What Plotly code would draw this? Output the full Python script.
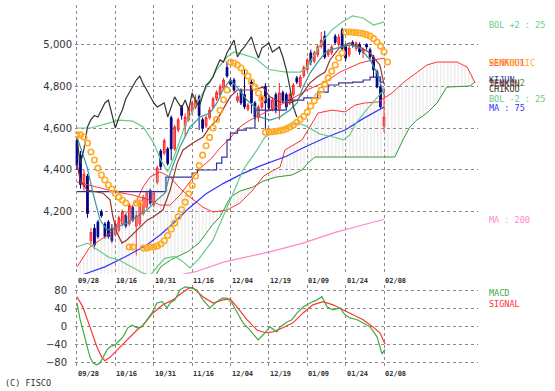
import plotly.graph_objects as go

# ---------------- data ----------------
date_idx = [0, 11, 22, 33, 44, 55, 66, 77, 88]
date_labels = ["09/28", "10/16", "10/31", "11/16", "12/04", "12/19", "01/09", "01/24", "02/08"]

opens = [4540, 4470, 4320, 4370, 4060, 4120, 4150, 4200, 4140, 4150,
         4120, 4090, 4110, 4140, 4180, 4140, 4220, 4130, 4140, 4190,
         4220, 4300, 4230, 4340, 4490, 4480, 4500, 4650, 4500, 4590,
         4700, 4610, 4640, 4680, 4700, 4750, 4640, 4610, 4650, 4700,
         4740, 4760, 4790, 4890, 4830, 4830, 4730, 4780, 4760, 4690,
         4820, 4720, 4650, 4700, 4800, 4740, 4690, 4760, 4690, 4770,
         4760, 4720, 4760, 4840, 4800, 4850, 4880, 4960, 4920, 4950,
         4990, 5040, 4950, 4960, 5040, 5000, 5070, 4990, 4950, 5010,
         4980, 5000, 4960, 5000, 4975, 4940, 4870, 4800, 4610]
highs = [4560, 4490, 4400, 4380, 4120, 4140, 4160, 4210, 4150, 4160,
         4140, 4160, 4180, 4210, 4190, 4240, 4230, 4200, 4250, 4280,
         4300, 4310, 4300, 4420, 4500, 4550, 4510, 4660, 4615, 4650,
         4710, 4670, 4700, 4730, 4760, 4760, 4650, 4660, 4700, 4750,
         4780, 4810, 4840, 4920, 4840, 4840, 4770, 4790, 4880, 4720,
         4830, 4730, 4710, 4760, 4815, 4750, 4740, 4770, 4815, 4780,
         4770, 4770, 4815, 4850, 4855, 4900, 4935, 4975, 4970, 5000,
         5060, 5065, 4980, 5000, 5050, 5050, 5080, 5000, 4995, 5020,
         5015, 5010, 4985, 5005, 4985, 4950, 4880, 4810, 4795]
lows = [4400, 4310, 4300, 4170, 4040, 4020, 4070, 4170, 4070, 4070,
        4050, 4080, 4100, 4130, 4120, 4130, 4150, 3990, 4130, 4180,
        4210, 4230, 4220, 4330, 4400, 4470, 4420, 4445, 4490, 4580,
        4640, 4560, 4630, 4670, 4690, 4590, 4580, 4600, 4640, 4690,
        4730, 4750, 4780, 4840, 4800, 4770, 4720, 4710, 4690, 4680,
        4670, 4640, 4630, 4690, 4590, 4680, 4680, 4670, 4640, 4720,
        4690, 4710, 4750, 4810, 4790, 4840, 4870, 4900, 4910, 4940,
        4980, 4930, 4940, 4950, 5000, 4990, 4970, 4920, 4940, 4985,
        4970, 4950, 4935, 4975, 4930, 4840, 4790, 4690, 4580]
closes = [4420, 4330, 4380, 4190, 4100, 4040, 4080, 4180, 4080, 4080,
          4060, 4140, 4170, 4200, 4130, 4230, 4160, 4180, 4240, 4270,
          4290, 4240, 4290, 4410, 4415, 4540, 4430, 4500, 4605, 4640,
          4660, 4653, 4690, 4720, 4734, 4660, 4600, 4650, 4686, 4740,
          4770, 4796, 4830, 4849, 4810, 4782, 4750, 4720, 4701, 4710,
          4720, 4653, 4700, 4749, 4720, 4696, 4734, 4686, 4768, 4730,
          4701, 4760, 4806, 4820, 4844, 4890, 4926, 4916, 4960, 4990,
          5021, 4940, 4970, 4988, 5010, 5036, 4980, 4935, 4983, 4995,
          5007, 4964, 4975, 4988, 4940, 4878, 4796, 4701, 4653]
chikou_shift = 25

bol_up_x = [0, 4, 8, 12, 16, 19, 22, 24, 26, 28, 31, 34, 37, 40, 43, 45, 48, 51, 55, 60, 64, 66, 68, 70, 73, 76, 79, 82, 85, 88]
bol_up_y = [4600, 4600, 4619, 4638, 4633, 4605, 4528, 4447, 4390, 4470, 4614, 4710, 4792, 4878, 4940, 4964, 4950, 4935, 4880, 4868, 4868, 4892, 4950, 5005, 5069, 5108, 5137, 5127, 5093, 5108]

bol_dn_x = [0, 3, 6, 9, 12, 16, 19, 21, 23, 25, 28, 30, 32.4, 35, 39, 43.9, 47.6, 51.6, 53.9, 57.6, 63.4, 66.2, 69.5, 73.5, 76.4, 78.2, 80, 82.9, 84.9, 87.2, 88.3]
bol_dn_y = [4030, 4049, 4016, 3982, 3968, 3930, 3905, 3895, 3935, 3975, 3985, 3965, 3930, 3975, 4064, 4255, 4399, 4495, 4557, 4590, 4624, 4605, 4572, 4557, 4543, 4567, 4624, 4686, 4725, 4768, 4768]

mid_x = [0, 6.6, 11.5, 16.1, 20.9, 23.8, 26.7, 29.5, 32.4, 35.3, 38.1, 41, 43.9, 46.7, 49.6, 52.5, 55.3, 61, 65.9, 71.1, 75.4, 81.1, 84.8, 88.3]
mid_y = [4341, 4313, 4293, 4279, 4255, 4231, 4231, 4279, 4341, 4408, 4447, 4504, 4552, 4605, 4638, 4662, 4686, 4734, 4782, 4820, 4868, 4911, 4926, 4935]

teal_x = [0, 2.9, 4.6, 6.6, 8.6, 11.5, 14.3, 17.2, 20.1, 22.9, 25.2, 26.7, 29.5, 32.4, 35.3, 38.1, 40.1, 41.8, 43.9, 45.9, 48.7, 51, 52.5, 55.3, 58.2, 61, 63.1, 64.8, 66.8, 68.8, 71.1, 72.5, 75.4, 78.2, 81.1, 84, 86, 87.4, 88]
teal_y = [4557, 4413, 4288, 4159, 4111, 4126, 4145, 4174, 4207, 4255, 4288, 4384, 4509, 4605, 4653, 4672, 4720, 4782, 4830, 4796, 4734, 4701, 4653, 4638, 4653, 4686, 4720, 4796, 4863, 4911, 4959, 4974, 4988, 4998, 4983, 4926, 4863, 4782, 4760]

tenkan_x = [0, 0.9, 2.9, 7.5, 9.5, 10.3, 11.5, 12.9, 14.3, 17.2, 20.1, 21.8, 24.6, 26.7, 28.7, 30.4, 33.2, 36.1, 38.1, 40.1, 41.8, 43.9, 45.9, 50.4, 53.3, 55.3, 58.2, 61, 63.1, 64.8, 66.8, 68.8, 71.1, 72.5, 75.4, 78.2, 81.1, 84, 86.8, 88]
tenkan_y = [4432, 4351, 4303, 4288, 4255, 4174, 4097, 4049, 4064, 4111, 4159, 4174, 4207, 4303, 4432, 4495, 4528, 4557, 4605, 4638, 4686, 4749, 4782, 4782, 4796, 4749, 4725, 4720, 4734, 4768, 4816, 4844, 4868, 4926, 4988, 5007, 4988, 4959, 4902, 4810]

kijun_x = [0, 25.5, 33, 34.5, 40, 41.5, 43, 44, 46, 48.5, 51, 60, 65, 69, 72, 75, 79, 82, 84, 87, 88]
kijun_y = [4295, 4365, 4384, 4399, 4432, 4461, 4543, 4576, 4590, 4600, 4686, 4734, 4744, 4772, 4806, 4816, 4820, 4830, 4844, 4820, 4820]

senkou1_x = [0, 3.7, 9.5, 14.3, 17.2, 18.9, 20.9, 23.8, 26.7, 29.5, 32.4, 36.1, 39, 43, 46.7, 50.4, 53.5, 56, 58.2, 59.6, 64.5, 67.4, 69.1, 73.1, 76.8, 79.7, 82.5, 86.3, 90.3, 93.4, 97.4, 100.3, 103.2, 108.9, 111.8, 113.5, 114.1]
senkou1_y = [3935, 4030, 4097, 4193, 4255, 4317, 4365, 4390, 4365, 4312, 4269, 4221, 4198, 4207, 4241, 4303, 4370, 4395, 4413, 4495, 4543, 4624, 4672, 4686, 4677, 4710, 4720, 4725, 4768, 4816, 4868, 4902, 4916, 4916, 4892, 4830, 4816]

senkou2_x = [0, 18, 22, 24, 27, 32, 35, 37.5, 39, 41, 44, 46.7, 50.4, 53.3, 57, 61.6, 64.5, 66.2, 68.2, 91.1, 93.4, 95.4, 97.4, 100.3, 103.2, 106, 112.6, 114.1]
senkou2_y = [3840, 3850, 3880, 3935, 3970, 4010, 4050, 4110, 4140, 4175, 4270, 4298, 4317, 4345, 4365, 4375, 4399, 4432, 4461, 4461, 4543, 4605, 4638, 4672, 4720, 4796, 4801, 4820]

ma75_x = [2, 8, 14, 20, 24, 28, 32, 37, 42, 47, 52, 56, 60, 65, 71, 77, 82, 88]
ma75_y = [3900, 3935, 3985, 4040, 4090, 4150, 4215, 4285, 4335, 4378, 4415, 4440, 4465, 4507, 4552, 4592, 4645, 4701]

ma200_x = [29, 34, 42, 55, 65, 74, 84, 88]
ma200_y = [3895, 3912, 3958, 4006, 4050, 4100, 4145, 4162]

sar = [4567, 4567, 4557, 4528, 4485, 4447, 4408, 4375, 4351, 4327,
       4308, 4288, 4269, 4255, 4241, 4030, 4030, 4241, 4241, 4025,
       4025, 4030, 4030, 4035, 4045, 4060, 4085, 4115, 4145, 4175,
       4210, 4245, 4285, 4325, 4370, 4420, 4470, 4515, 4555, 4600,
       4640, 4685, 4735, 4782, 4916, 4911, 4902, 4887, 4868, 4849,
       4820, 4796, 4768, 4740, 4580, 4581, 4582, 4584, 4587, 4590,
       4596, 4605, 4614, 4627, 4642, 4655, 4676, 4705, 4730, 4752,
       4782, 4810, 4840, 4872, 4902, 4935, 4959, 5060, 5060, 5058,
       5057, 5055, 5052, 5047, 5040, 5028, 5012, 4992, 4964, 4916]

macd_x = [0, 0.9, 1.7, 2.9, 3.7, 4.6, 5.7, 6.6, 7.5, 8.6, 9.5, 10.9, 12.3, 13.2, 14.6, 15.8, 17.2, 18.6, 20.1, 21.5, 22.9, 24.4, 25.8, 26.7, 28.1, 29.5, 31, 32.4, 34.4, 36.1, 38.1, 39.6, 41.6, 43, 44.4, 45.9, 47.6, 49.6, 51.9, 53.3, 55.3, 57.3, 58.2, 60.2, 61.6, 63.1, 64.8, 66.8, 68.8, 70.2, 71.7, 73.4, 75.4, 76.8, 78.2, 80.3, 82, 84, 86, 87.4, 88.3]
macd_y = [53, 16, -7, -44, -67, -80, -84, -80, -67, -51, -44, -40, -29, -22, -2, 4, -2, 0, 16, 31, 53, 56, 42, 53, 60, 82, 89, 87, 82, 60, 42, 53, 64, 64, 53, 31, 9, -7, -29, -18, 0, -11, 0, 11, 16, 31, 44, 53, 60, 67, 44, 38, 42, 27, 20, 16, 9, 0, -22, -60, -50]

signal_x = [0, 1.7, 3.7, 5.7, 7.2, 8, 9.5, 11.5, 14.3, 17.2, 18.9, 21.8, 24.6, 27.5, 30.1, 32.4, 33.2, 36.1, 39, 41.8, 43.9, 45.9, 48.7, 51.6, 53.9, 56.2, 59, 61.9, 64.8, 67.6, 70.5, 73.4, 76.2, 79.1, 82, 84.8, 86.8, 88.3]
signal_y = [67, 44, 0, -44, -69, -75, -67, -51, -29, -7, 4, 31, 49, 60, 76, 87, 87, 67, 53, 60, 62, 44, 16, -7, -13, -11, -2, 9, 31, 49, 56, 49, 38, 27, 16, 0, -13, -38]

# ---------------- figure ----------------
idx = list(range(len(closes)))
MONO = "DejaVu Sans Mono"
fig = go.Figure()

# Ichimoku cloud
fig.add_trace(go.Scatter(x=senkou2_x, y=senkou2_y, mode="lines",
                         line=dict(color="#339933", width=1), xaxis="x", yaxis="y"))
fig.add_trace(go.Scatter(x=senkou1_x, y=senkou1_y, mode="lines",
                         line=dict(color="#ff3333", width=1), fill="tonexty",
                         fillcolor="rgba(0,0,0,0)",
                         fillpattern=dict(shape="|", fgcolor="#bdbdbd", bgcolor="rgba(0,0,0,0)",
                                          size=3.5, solidity=0.25),
                         xaxis="x", yaxis="y"))

fig.add_trace(go.Scatter(x=ma200_x, y=ma200_y, mode="lines", line=dict(color="#ff88cc", width=1.2)))
fig.add_trace(go.Scatter(x=ma75_x, y=ma75_y, mode="lines", line=dict(color="#3333ff", width=1.2)))
fig.add_trace(go.Scatter(x=bol_up_x, y=bol_up_y, mode="lines", line=dict(color="#66cc88", width=1.2)))
fig.add_trace(go.Scatter(x=bol_dn_x, y=bol_dn_y, mode="lines", line=dict(color="#66cc88", width=1.2)))
fig.add_trace(go.Scatter(x=mid_x, y=mid_y, mode="lines", line=dict(color="#ff3333", width=1)))
fig.add_trace(go.Scatter(x=kijun_x, y=kijun_y, mode="lines", line=dict(color="#333399", width=1.2, shape="hv")))
fig.add_trace(go.Scatter(x=tenkan_x, y=tenkan_y, mode="lines", line=dict(color="#993333", width=1.2)))
fig.add_trace(go.Scatter(x=teal_x, y=teal_y, mode="lines", line=dict(color="#339999", width=1.2)))

# Chikou span (close shifted back)
fig.add_trace(go.Scatter(x=[i - chikou_shift for i in idx[chikou_shift:]], y=closes[chikou_shift:],
                         mode="lines", line=dict(color="#333333", width=1.2)))

fig.add_trace(go.Candlestick(x=idx, open=opens, high=highs, low=lows, close=closes,
                             increasing=dict(line=dict(color="#ff2222", width=1), fillcolor="#ff7777"),
                             decreasing=dict(line=dict(color="#000080", width=1), fillcolor="#000080"),
                             whiskerwidth=0, xaxis="x", yaxis="y"))

fig.add_trace(go.Scatter(x=list(range(len(sar))), y=sar, mode="markers",
                         marker=dict(symbol="circle-open", size=5.5, color="#ffaa22",
                                     line=dict(width=1.6, color="#ffaa22"))))

# MACD panel
fig.add_trace(go.Scatter(x=signal_x, y=signal_y, mode="lines", line=dict(color="#ff3333", width=1.2),
                         xaxis="x2", yaxis="y2"))
fig.add_trace(go.Scatter(x=macd_x, y=macd_y, mode="lines", line=dict(color="#44aa44", width=1.2),
                         xaxis="x2", yaxis="y2"))

XR = [-0.57, 114.93]
grid = dict(showgrid=True, gridcolor="#888888", griddash="dot", gridwidth=1, zeroline=False, showline=False)
main_bottom = 0.2569
macd_top = 0.2265

fig.update_layout(
    width=555, height=391, margin=dict(l=75, r=77, t=5, b=24),
    paper_bgcolor="white", plot_bgcolor="white", showlegend=False,
    xaxis=dict(domain=[0, 1], range=XR, anchor="y", tickvals=date_idx, showticklabels=False,
               rangeslider=dict(visible=False), **grid),
    yaxis=dict(domain=[main_bottom, 1], range=[3901, 5189], tickvals=[4200, 4400, 4600, 4800, 5000],
               ticktext=["4,200", "4,400", "4,600", "4,800", "5,000"],
               tickfont=dict(family="DejaVu Sans", size=10, color="#333333"), ticklabelstandoff=2, **grid),
    xaxis2=dict(domain=[0, 1], range=XR, anchor="y2", tickvals=date_idx, showticklabels=False, **grid),
    yaxis2=dict(domain=[0, macd_top], range=[-89, 93], tickvals=[-80, -40, 0, 40, 80],
                tickfont=dict(family="DejaVu Sans", size=10, color="#333333"), ticklabelstandoff=7, **grid),
)

ann = []
for xi, lab in zip(date_idx, date_labels):
    for yb in (main_bottom, 0):
        ann.append(dict(x=xi, xref="x", y=yb, yref="paper", text=lab, showarrow=False,
                        xanchor="left", yanchor="top", yshift=-1, xshift=-1,
                        font=dict(family=MONO, size=7, color="#333333", weight="bold")))

LX = 1.0223
labels_main = [
    ("BOL +2 : 25", 5093, "#66cc88"),
    ("SENKOU1", 4911, "#ff3333"),
    ("PARABOLIC", 4911, "#ffaa22"),
    ("SENKOU2", 4816, "#339933"),
    ("TENKAN", 4811, "#993333"),
    ("CHIKOU", 4787, "#333333"),
    ("KIJUN", 4830, "#333399"),
    ("BOL -2 : 25", 4739, "#66cc88"),
    ("MA : 75", 4696, "#3333ff"),
    ("MA : 200", 4159, "#ff88cc"),
]
for text, yv, col in labels_main:
    ann.append(dict(x=LX, xref="paper", y=yv, yref="y", text=text, showarrow=False,
                    xanchor="left", yanchor="middle", font=dict(family=MONO, size=8.5, color=col)))
for text, yv, col in [("MACD", 75, "#44aa44"), ("SIGNAL", 51, "#ff3333")]:
    ann.append(dict(x=LX, xref="paper", y=yv, yref="y2", text=text, showarrow=False,
                    xanchor="left", yanchor="middle", font=dict(family=MONO, size=8.5, color=col)))
ann.append(dict(x=-0.1787, xref="paper", y=-0.0442, yref="paper", text="(C) FISCO", showarrow=False,
                xanchor="left", yanchor="middle", font=dict(family=MONO, size=8.5, color="#333333")))
fig.update_layout(annotations=ann)

fig.write_html("out.html", config={"displayModeBar": False},
               post_script="document.body.style.margin='0';document.body.style.overflow='hidden';")
